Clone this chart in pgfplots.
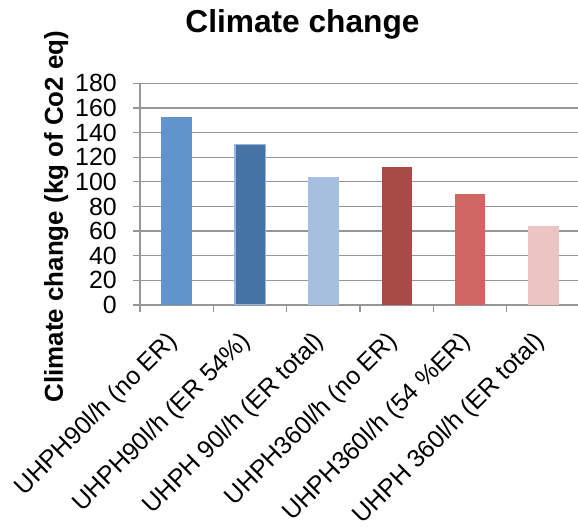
\documentclass[border=0pt]{standalone}
\usepackage{pgfplots}
\pgfplotsset{compat=1.18}
\usepackage{fontspec}
\setmainfont{Liberation Sans}

\definecolor{axisgray}{RGB}{150,150,150}
\definecolor{barA}{RGB}{96,148,202}
\definecolor{barB}{RGB}{70,115,165}
\definecolor{barBedge}{RGB}{150,182,220}
\definecolor{barC}{RGB}{166,191,223}
\definecolor{barD}{RGB}{168,75,70}
\definecolor{barE}{RGB}{207,102,97}
\definecolor{barF}{RGB}{235,196,196}

\begin{document}
\begin{tikzpicture}
\begin{axis}[
  at={(140bp,226bp)}, anchor=south west,
  scale only axis, width=438bp, height=221.7bp,
  xmin=-0.5, xmax=5.47, ymin=0, ymax=180,
  axis x line*=bottom, axis y line*=left,
  axis line style={draw=axisgray, line width=1.3bp},
  ybar, bar width=30.5bp, bar shift=0pt,
  ytick={0,20,...,180},
  ymajorgrids, grid style={draw=axisgray, line width=1.3bp},
  tick align=outside,
  major tick length=7bp, minor tick length=7bp,
  tick style={draw=axisgray, line width=1.3bp},
  xtick={0,...,5},
  major x tick style={draw=none},
  minor xtick={-0.5,0.5,...,4.5},
  xticklabels={UHPH90l/h (no ER), UHPH90l/h (ER 54\%), UHPH 90l/h (ER total),
               UHPH360l/h (no ER), UHPH360l/h (54 \%ER), UHPH 360l/h (ER total)},
  /pgf/number format/assume math mode=true,
  ticklabel style={font=\fontsize{25}{30}\selectfont},
  yticklabel style={anchor=east, inner sep=0pt, xshift=-16bp},
  xticklabel style={inner sep=0pt, xshift=-3bp, yshift=-26bp, rotate=45, anchor=east},
  ylabel={\bfseries Climate change (kg of Co2 eq)},
  ylabel style={font=\fontsize{26}{30}\selectfont, at={(axis description cs:-0.176,0.399)}, anchor=base},
  title={\bfseries Climate change},
  title style={font=\fontsize{31.8}{36}\selectfont, at={(axis description cs:0.371,1.200)}, anchor=base, yshift=0pt},
]
\addplot[fill=barA, draw=none] coordinates {(0,153)};
\addplot[fill=barB, draw=barBedge, line width=1.5bp] coordinates {(1,130.5)};
\addplot[fill=barC, draw=none] coordinates {(2,104)};
\addplot[fill=barD, draw=none] coordinates {(3,112)};
\addplot[fill=barE, draw=none] coordinates {(4,90)};
\addplot[fill=barF, draw=none] coordinates {(5,64)};
\end{axis}
\pgfresetboundingbox
\path (0,0) rectangle (578bp,531bp);
\end{tikzpicture}
\end{document}
